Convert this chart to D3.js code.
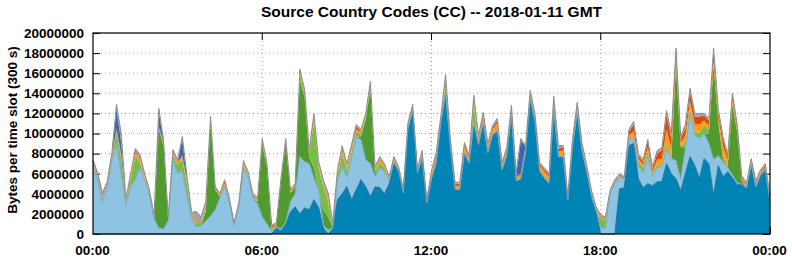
<!DOCTYPE html>
<html>
<head>
<meta charset="utf-8">
<script src="https://cdn.jsdelivr.net/npm/d3@7"></script>
<style>
  body { margin: 0; background: #fff; }
  #chart text { font-family: "Liberation Sans", Arial, sans-serif; font-weight: bold; fill: #000; }
</style>
</head>
<body>
<svg id="chart" width="792" height="259"></svg>
<script>
// one value every 10 minutes from 00:00 to 24:00, in millions of bytes per slot
// rows of 12 = two hours
var darkBlue = [
  0,0,0,0,0,0,0,0,0,0,0,0,
  0,0,0,0,0,0,0,0,0,0,0,0,
  0,0,0,0,0,0,0,0,0,0,0,0,
  0,0,0,.6,.3,1.0,2.2,2.7,2.0,2.6,2.4,3.4,
  2.6,.6,0,.5,3.4,4.0,4.7,3.4,4.4,5.4,4.7,3.7,
  4.7,4.6,4.0,5.0,7.0,6.2,4.0,10.4,12.1,6.0,7.5,3.0,
  5.4,7.0,11.0,13.9,8.6,4.4,4.3,8.0,7.0,10.8,8.8,11.0,
  8.0,9.8,10.2,6.3,7.7,11.8,5.2,5.4,8.0,13.4,11.1,6.2,
  5.5,4.9,12.2,7.6,7.6,3.3,8.6,12.0,8.2,6.0,3.5,2.2,
  0,0,0,0,4.5,4.6,8.8,9.0,5.5,4.6,5.0,4.8,
  5.2,5.2,7.0,6.0,5.5,4.3,6.0,7.7,6.8,5.5,7.5,7.0,
  3.8,6.8,5.7,6.2,5.6,4.9,4.9,4.5,6.8,4.6,5.8,6.3,
  3.0
];
var lightBlue = [
  6.8,5.2,3.1,4.6,7.3,9.0,6.0,2.8,4.7,5.4,6.6,5.3,
  3.8,1.5,.6,.5,1.3,7.4,6.0,6.3,3.7,1.5,.7,.8,
  1.3,1.8,2.4,3.6,4.7,3.1,.8,2.7,6.5,5.6,3.6,3.0,
  1.7,1.0,.3,.1,.2,.2,1.0,1.3,5.7,4.6,4.6,2.2,
  1.8,.3,.4,.1,1.8,2.7,1.0,4.2,5.3,4.0,2.7,3.3,
  1.0,2.0,2.2,.3,.2,.1,.1,.1,.2,.1,.1,.1,
  .1,.1,.1,.1,.1,.1,.1,.1,.1,.3,.1,.1,
  .1,.1,.1,.1,.1,.1,.1,.1,.1,.1,.1,.1,
  .1,.3,.2,.1,.1,.1,.1,.1,.1,.3,.5,.2,
  .6,.6,4.0,5.0,1.2,.8,.5,.6,1.3,1.5,2.7,1.0,
  1.4,1.5,1.5,1.5,1.8,1.2,2.5,4.3,3.0,4.0,2.5,2.0,
  3.6,1.0,1.5,.4,.3,.2,.1,.1,.1,.1,.1,.1,
  .3
];
var darkGreen = [
  0,0,0,0,0,0,0,0,0,0,0,0,
  0,0,9.8,8.3,.1,0,0,0,0,0,0,0,
  1.0,9.2,2.0,.1,0,0,0,0,0,0,0,.2,
  7.2,5.6,.1,.1,4.8,7.8,.9,.7,7.6,6.4,.6,1.0,
  0,1.5,1.3,.1,0,.3,0,0,0,.3,4.0,7.4,
  .3,0,0,0,0,0,0,0,0,0,0,0,
  0,0,0,0,0,0,0,0,0,0,0,0,
  0,0,0,0,0,0,0,0,0,0,0,0,
  0,0,0,0,0,0,0,0,0,0,0,0,
  0,0,0,0,0,0,0,0,0,0,0,0,
  0,0,0,0,9.6,3.2,0,0,0,0,0,1.0,
  9.4,3.4,.3,.1,7.0,5.1,.3,0,0,0,0,0,
  0
];
var lightGreen = [
  0,0,0,0,0,1.2,1.5,.3,.8,2.3,.6,.2,
  .1,0,0,0,0,.4,.9,1.1,1.2,.2,.3,.2,
  .5,0,0,0,0,0,0,0,.3,.2,0,0,
  0,0,0,0,0,0,0,0,.6,.4,.3,4.6,
  2.2,2.4,1.5,.1,.6,1.0,.6,.6,.5,.2,.2,.4,
  .3,.5,.4,.1,0,0,0,0,0,0,.3,0,
  .3,0,0,1.2,0,0,0,0,0,1.8,0,0,
  0,0,0,0,0,0,0,0,0,0,0,0,
  0,0,.6,0,0,0,0,0,0,0,0,0,
  .9,.8,0,0,0,0,0,0,.4,.5,.5,.2,
  .3,0,.5,0,0,0,.5,.4,.3,.6,.8,.4,
  0,0,0,0,0,0,0,0,0,0,0,0,
  0
];
var orange = [
  .2,.2,.2,.2,.3,.2,.3,.2,.2,.4,.3,.2,
  .2,.15,.2,.2,.1,.2,.2,.3,.3,.15,.15,.1,
  .15,.2,.1,.15,.3,.2,.1,.15,.2,.2,.15,.15,
  .2,.15,.2,.1,.1,.2,.1,.15,.2,.2,.2,.3,
  .2,.2,.3,.1,.2,.3,.3,.3,.2,.2,.2,.2,
  .2,.3,.2,.15,.2,.2,.2,.3,.3,.2,.2,.2,
  .3,.5,.4,.3,.4,.3,.4,.6,.4,.5,.5,.6,
  .5,.5,.7,.4,.5,.5,.4,.4,.4,.4,.4,.5,
  .6,.5,.3,.5,.6,.2,.4,.5,.4,.3,.2,.1,
  .1,.1,.1,.1,.1,.1,.5,.6,.3,.3,.4,.2,
  .5,.8,1.4,1.0,.6,.4,.8,.8,.8,.8,.5,.4,
  .5,.5,1.2,.7,.4,.3,.2,.2,.2,.2,.2,.2,
  .2
];
var red = [
  .1,.1,.1,.1,.1,.1,.1,.1,.1,.1,.1,.1,
  .1,.1,.1,.1,.1,.1,.1,.1,.1,.1,.1,.1,
  .1,.2,.1,.1,.2,.1,.1,.1,.1,.1,.1,.1,
  .1,.1,.2,.1,.1,.1,.1,.1,.1,.1,.1,.2,
  .1,.1,.2,.05,.1,.2,.1,.1,.3,.1,.1,.1,
  .1,.1,.1,.1,.1,.1,.1,.1,.1,.1,.1,.1,
  .1,.2,.1,.2,.2,.2,.2,.2,.2,.2,.2,.2,
  .2,.2,.3,.2,.2,.2,.2,.1,.2,.2,.2,.2,
  .2,.2,.2,.3,.3,.1,.2,.3,.2,.1,.1,.1,
  .1,.1,.1,.1,.1,.1,.4,.7,.3,.3,.6,.3,
  .6,.8,1.5,1.0,.7,.4,.7,.9,.8,.8,.5,.5,
  .8,.5,.7,.3,.4,.3,.2,.1,.1,.2,.1,.2,
  .1
];
var royalBlue = [
  0,0,0,0,0,2.0,1.2,0,0,.1,0,0,
  0,0,1.4,.1,0,0,0,1.6,.2,0,0,0,
  0,.1,0,0,0,0,0,0,0,0,0,0,
  0,0,0,0,0,0,0,0,0,0,0,0,
  0,0,0,0,0,0,0,0,0,0,0,0,
  0,0,0,0,0,0,0,0,0,0,0,0,
  0,0,0,0,0,0,0,0,0,0,0,0,
  0,0,0,0,0,0,0,3.3,0,0,0,0,
  0,0,0,0,0,0,0,0,0,0,0,0,
  0,0,0,0,0,0,0,0,0,0,0,0,
  0,0,0,.1,0,0,0,0,0,0,0,0,
  0,0,0,0,0,0,0,0,0,0,0,0,
  0
];
var gray = [
  .3,.6,.7,.3,.3,.4,.9,.1,.2,.2,.3,.2,
  .2,.15,.4,.2,.1,.3,.2,.3,.2,.2,1.0,.5,
  .2,.2,.1,.1,.2,.2,.1,.15,.2,.1,.2,.15,
  .3,.15,.1,.1,.1,.2,.1,.1,.2,.1,.2,.3,
  .3,.3,.4,.2,.3,.3,.3,.3,.2,.2,.1,.1,
  .1,.2,.1,.05,.2,.1,.1,.2,.2,.1,.1,.1,
  .1,.3,.2,.2,.2,.15,.15,.2,.1,.2,.2,.2,
  .2,.2,.2,.1,.1,.2,.2,.2,.1,.2,.2,.1,
  .2,.1,.2,.3,.2,.1,.2,.2,.2,.2,.1,.1,
  .2,.1,.2,.2,.1,.1,.2,.3,.2,.2,.2,.2,
  .3,.3,.4,.4,.3,.2,.4,.4,.3,.3,.2,.2,
  .4,.2,.3,.2,.3,.2,.1,.2,.3,.2,.2,.2,
  .2
];

var xTickHours = [0, 6, 12, 18, 24];
var xTickLabels = ["00:00", "06:00", "12:00", "18:00", "00:00"];
var yTicks = [0, 2e6, 4e6, 6e6, 8e6, 10e6, 12e6, 14e6, 16e6, 18e6, 20e6];

var series = {darkBlue: darkBlue, lightBlue: lightBlue, darkGreen: darkGreen, lightGreen: lightGreen,
              orange: orange, red: red, royalBlue: royalBlue, gray: gray};
var keys = ["darkBlue", "lightBlue", "darkGreen", "lightGreen", "orange", "red", "royalBlue", "gray"];
var colors = ["#0083b5", "#8ec4e2", "#4f9b2d", "#78bd45", "#f7a01c", "#dc4b0e", "#3c66b6", "#a4a4a4"];

var plotLeft = 93, plotRight = 770, plotTop = 33, plotBottom = 234;

var rows = darkBlue.map(function(v, i) {
  var r = {hour: i * 10 / 60};
  keys.forEach(function(k) { r[k] = series[k][i] * 1e6; });
  return r;
});

var x = d3.scaleLinear().domain([0, 24]).range([plotLeft, plotRight]);
var y = d3.scaleLinear().domain([0, 20e6]).range([plotBottom, plotTop]);

var svg = d3.select("#chart");

// dotted grid behind the data
svg.append("g").selectAll("line")
    .data(yTicks.slice(1))
  .enter().append("line")
    .attr("x1", plotLeft).attr("x2", plotRight)
    .attr("y1", function(d) { return y(d); }).attr("y2", function(d) { return y(d); })
    .attr("stroke", "#a0a0a0").attr("stroke-dasharray", "1,3");
svg.append("g").selectAll("line")
    .data(xTickHours.slice(1, 4))
  .enter().append("line")
    .attr("x1", function(d) { return x(d); }).attr("x2", function(d) { return x(d); })
    .attr("y1", plotTop).attr("y2", plotBottom)
    .attr("stroke", "#a0a0a0").attr("stroke-dasharray", "1,3");

// inward ticks on the left and right
var yAxis = svg.append("g")
    .attr("transform", "translate(" + plotLeft + ",0)")
    .call(d3.axisLeft(y).tickValues(yTicks).tickFormat(d3.format("d")).tickSize(-7).tickPadding(9));
svg.append("g")
    .attr("transform", "translate(" + plotRight + ",0)")
    .call(d3.axisRight(y).tickValues(yTicks).tickFormat("").tickSize(-7));
var xAxis = svg.append("g")
    .attr("transform", "translate(0," + plotBottom + ")")
    .call(d3.axisBottom(x).tickValues(xTickHours).tickFormat(function(d, i) { return xTickLabels[i]; }).tickSize(-7).tickPadding(11));
svg.selectAll(".domain").remove();
svg.selectAll(".tick line").attr("stroke", "#000");
yAxis.selectAll("text").style("font-size", "13.5px");
xAxis.selectAll("text").style("font-size", "13.5px").attr("dx", "-1");

// stacked areas
var stack = d3.stack().keys(keys);
var layers = stack(rows);

var area = d3.area()
    .x(function(d) { return x(d.data.hour); })
    .y0(function(d) { return y(d[0]); })
    .y1(function(d) { return y(d[1]); });

svg.append("g").selectAll("path")
    .data(layers)
  .enter().append("path")
    .attr("d", area)
    .attr("fill", function(d, i) { return colors[i]; });

var topLine = d3.line()
    .x(function(d) { return x(d.data.hour); })
    .y(function(d) { return y(d[1]); });

svg.append("path").attr("d", topLine(layers[0]))
    .attr("fill", "none").attr("stroke", "#21719c").attr("stroke-width", 1);
svg.append("path").attr("d", topLine(layers[1]))
    .attr("fill", "none").attr("stroke", "#79aecd").attr("stroke-width", 1);
svg.append("path").attr("d", topLine(layers[keys.length - 1]))
    .attr("fill", "none").attr("stroke", "#8c8c8c").attr("stroke-width", 1);

// frame and top ticks
svg.append("rect")
    .attr("x", plotLeft).attr("y", plotTop)
    .attr("width", plotRight - plotLeft).attr("height", plotBottom - plotTop)
    .attr("fill", "none").attr("stroke", "#000").attr("stroke-width", 1.2);
svg.append("g").selectAll("line")
    .data(xTickHours.slice(1, 4))
  .enter().append("line")
    .attr("x1", function(d) { return x(d); }).attr("x2", function(d) { return x(d); })
    .attr("y1", plotTop).attr("y2", plotTop + 7)
    .attr("stroke", "#000");

svg.append("text")
    .attr("x", (plotLeft + plotRight) / 2)
    .attr("y", 17)
    .attr("text-anchor", "middle")
    .style("font-size", "15.5px")
    .text("Source Country Codes (CC) -- 2018-01-11 GMT");

svg.append("text")
    .attr("transform", "translate(17,130) rotate(-90)")
    .attr("text-anchor", "middle")
    .style("font-size", "13.5px")
    .text("Bytes per time slot (300 s)");
</script>
</body>
</html>
